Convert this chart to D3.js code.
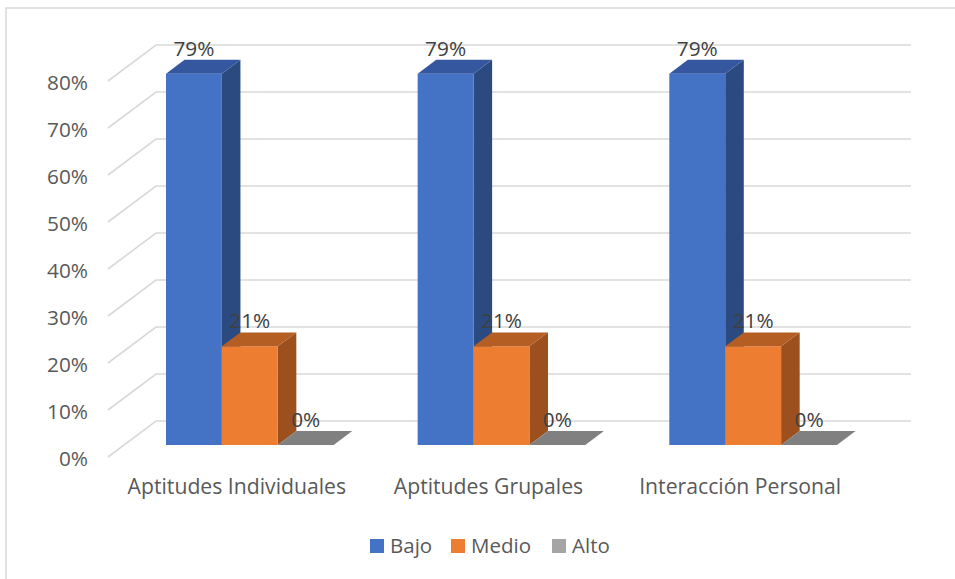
<!DOCTYPE html>
<html>
<head>
<meta charset="utf-8">
<script src="https://cdn.jsdelivr.net/npm/d3@7"></script>
<style>
  html, body { margin: 0; padding: 0; background: #fff; }
  svg { display: block; font-family: "Open Sans", "Noto Sans", sans-serif; }
</style>
</head>
<body>
<svg id="chart" width="955" height="579"></svg>
<script>
// Chart data
const categories = ["Aptitudes Individuales", "Aptitudes Grupales", "Interacción Personal"];
const seriesNames = ["Bajo", "Medio", "Alto"];
const bajo  = [0.79, 0.79, 0.79];
const medio = [0.21, 0.21, 0.21];
const alto  = [0.00, 0.00, 0.00];
const yTicks = [0, 0.1, 0.2, 0.3, 0.4, 0.5, 0.6, 0.7, 0.8];

const seriesValues = [bajo, medio, alto];
const palette = [
  { front: "#4472C4", side: "#2B4A80", top: "#3457A0", legend: "#4472C4" },
  { front: "#ED7D31", side: "#9B501D", top: "#B55E23", legend: "#ED7D31" },
  { front: "#A5A5A5", side: "#6B6B6B", top: "#808080", legend: "#A5A5A5" }
];

const svg = d3.select("#chart");

// Oblique 3D projection: the floor recedes by (DX, DY) over its full depth
const DX = 48, DY = -36;
const barZ0 = 0.333, barZ1 = 0.72;   // bar depth inside the floor (0 = front, 1 = back)

const x = d3.scaleBand().domain(categories).range([108, 863]).paddingInner(0).paddingOuter(0);
const xs = d3.scaleBand().domain(seriesNames).range([42, x.bandwidth() - 42]).padding(0);
const y = d3.scaleLinear().domain([0, 0.8]).range([457, 81]);

const P = (px, v, z) => [px + z * DX, y(v) + z * DY];
const poly = pts => pts.map(p => p.join(",")).join(" ");

// Outer frame
svg.append("rect")
  .attr("x", 6).attr("y", 8).attr("width", 970).attr("height", 600)
  .attr("fill", "none").attr("stroke", "#D9D9D9").attr("stroke-width", 1.5);

// Gridlines: a diagonal along the side wall and a horizontal line on the back wall
const grid = svg.append("g").attr("stroke", "#D9D9D9").attr("stroke-width", 1.6).attr("fill", "none");
const xLeft = x.range()[0], xRight = x.range()[1];
yTicks.forEach(t => {
  const a = P(xLeft, t, 0), b = P(xLeft, t, 1), c = P(xRight, t, 1);
  grid.append("polyline").attr("points", poly([a, b, c]));
});

// Y tick labels
svg.append("g").selectAll("text").data(yTicks).join("text")
  .attr("x", 88).attr("y", d => y(d) + 2)
  .attr("dy", "0.36em")
  .attr("text-anchor", "end")
  .attr("font-size", 20.8)
  .attr("fill", "#595959")
  .text(d3.format(".0%"));

// Bars
const bars = svg.append("g");
const labels = [];
categories.forEach((cat, ci) => {
  seriesNames.forEach((s, si) => {
    const v = seriesValues[si][ci];
    const col = palette[si];
    const x0 = x(cat) + xs(s), x1 = x0 + xs.bandwidth();
    const g = bars.append("g");
    // right side face
    g.append("polygon").attr("fill", col.side)
      .attr("points", poly([P(x1, 0, barZ0), P(x1, 0, barZ1), P(x1, v, barZ1), P(x1, v, barZ0)]));
    // front face
    g.append("polygon").attr("fill", col.front)
      .attr("points", poly([P(x0, 0, barZ0), P(x1, 0, barZ0), P(x1, v, barZ0), P(x0, v, barZ0)]));
    // top face
    g.append("polygon").attr("fill", col.top)
      .attr("points", poly([P(x0, v, barZ0), P(x1, v, barZ0), P(x1, v, barZ1), P(x0, v, barZ1)]));
    labels.push({ x: (x0 + x1) / 2 + barZ0 * DX, y: P(x1, v, barZ1)[1] - 4, v });
  });
});

// Value labels
svg.append("g").selectAll("text").data(labels).join("text")
  .attr("x", d => d.x).attr("y", d => d.y)
  .attr("text-anchor", "middle")
  .attr("font-size", 20.8)
  .attr("fill", "#404040")
  .text(d => d3.format(".0%")(d.v));

// Category labels
svg.append("g").selectAll("text").data(categories).join("text")
  .attr("x", d => x(d) + x.bandwidth() / 2 + 3)
  .attr("y", 494)
  .attr("text-anchor", "middle")
  .attr("font-size", 21.2)
  .attr("fill", "#595959")
  .text(d => d);

// Legend
const legendX = [370, 451, 552];
const legend = svg.append("g").selectAll("g").data(seriesNames).join("g")
  .attr("transform", (d, i) => `translate(${legendX[i]},539)`);
legend.append("rect").attr("width", 14).attr("height", 14)
  .attr("fill", (d, i) => palette[i].legend);
legend.append("text").attr("x", 20).attr("y", 7).attr("dy", "0.36em")
  .attr("font-size", 20.5).attr("fill", "#595959").text(d => d);
</script>
</body>
</html>
